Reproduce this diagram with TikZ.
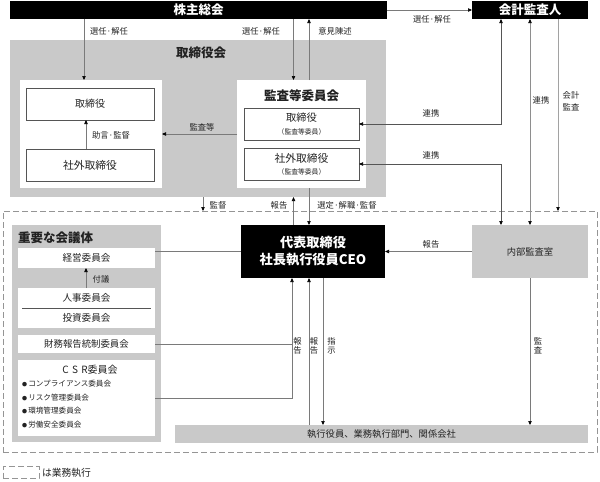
\documentclass[tikz,border=0pt]{standalone}
\usepackage{fontspec}
\setmainfont{Noto Sans CJK JP}
\usetikzlibrary{arrows.meta}
\definecolor{panel}{HTML}{C9C9C9}
\definecolor{ln}{HTML}{7A7A7A}
\definecolor{bd}{HTML}{555555}
\definecolor{txt}{HTML}{222222}
\newcommand{\smallbullet}{{\fontsize{5}{5}\selectfont ●}}
\begin{document}
\begin{tikzpicture}[x=1pt,y=-1pt,
  every node/.style={inner sep=0pt,outer sep=0pt,text=txt},
  blackbox/.style={fill=black,text=white,font=\bfseries\fontsize{12.5}{14}\selectfont},
  graypanel/.style={fill=panel},
  whitepanel/.style={fill=white},
  framed/.style={draw=bd,line width=0.6pt,fill=white,align=center},
  lab/.style={font=\fontsize{8.3}{10}\selectfont},
  vlab/.style={font=\fontsize{8.3}{9}\selectfont,align=center},
  ttl/.style={font=\bfseries\fontsize{12.5}{14}\selectfont},
  tip/.tip={Triangle[length=4pt,width=3.4pt,color=black]},
  conn/.style={draw=ln,line width=0.7pt},
  arr/.style={conn,-tip},
  darr/.style={conn,tip-tip},
  dashedbox/.style={draw=ln!80,line width=0.6pt,dash pattern=on 6pt off 3pt},
  bullet/.style={font=\fontsize{7.6}{9}\selectfont,anchor=west}
]
\useasboundingbox (0,0) rectangle (600,482);

% columns and rows
\coordinate (c84) at (84,0);
\coordinate (c86) at (86,0);
\coordinate (c203) at (203,0);
\coordinate (c292) at (292,0);
\coordinate (c293) at (293.5,0);
\coordinate (c309) at (309,0);
\coordinate (c323) at (323,0);
\coordinate (c501) at (501,0);
\coordinate (c530) at (530,0);
\coordinate (c558) at (558,0);

% top
\node[blackbox,minimum width=377pt,minimum height=18pt] (gms) at (198.5,10) {株主総会};
\node[blackbox,minimum width=116pt,minimum height=18pt] (aud) at (530,10) {会計監査人};

% board
\node[graypanel,minimum width=376pt,minimum height=157pt] (board) at (198,118.5) {};
\node[ttl] (boardt) at (201,53) {取締役会};
\node[whitepanel,minimum width=142pt,minimum height=108pt] (lp) at (91,134) {};
\node[framed,minimum width=128pt,minimum height=32pt,font=\fontsize{10}{12}\selectfont] (dir) at (90,104) {取締役};
\node[framed,minimum width=128pt,minimum height=32pt,font=\fontsize{10.8}{12}\selectfont] (odir) at (90,165) {社外取締役};
\node[whitepanel,minimum width=129pt,minimum height=108pt] (ap) at (301.5,134) {};
\node[ttl] (apt) at (301.5,96) {監査等委員会};
\node[framed,minimum width=115pt,minimum height=32pt] (adir) at (301.5,124) {};
\node[font=\fontsize{10.3}{12}\selectfont] (adirt) at (301.5,118) {取締役};
\node[font=\fontsize{6.8}{8}\selectfont] (adirs) at (301.5,131.5) {（監査等委員）};
\node[framed,minimum width=115pt,minimum height=32pt] (aodir) at (301.5,164) {};
\node[font=\fontsize{10.8}{12}\selectfont] (aodirt) at (301.5,158) {社外取締役};
\node[font=\fontsize{6.8}{8}\selectfont] (aodirs) at (301.5,171.5) {（監査等委員）};

% execution area
\node[dashedbox,minimum width=594pt,minimum height=241pt] (exec) at (300,331.5) {};
\node[blackbox,font=\bfseries\fontsize{13.2}{17}\selectfont,align=center,minimum width=144pt,minimum height=53pt] (ceo) at (313,251.5) {代表取締役\\社長執行役員CEO};
\node[graypanel,minimum width=116pt,minimum height=53pt,font=\fontsize{9.3}{11}\selectfont] (ia) at (530,251.5) {内部監査室};

\node[graypanel,minimum width=149pt,minimum height=217pt] (mtg) at (86.5,333.5) {};
\node[ttl,anchor=west] (mtgt) at (18,238) {重要な会議体};
\node[whitepanel,minimum width=137pt,minimum height=20pt,font=\fontsize{9.6}{11}\selectfont] (mgmt) at (86.5,258) {経営委員会};
\node[whitepanel,minimum width=137pt,minimum height=40pt] (hr) at (86.5,308) {};
\node[font=\fontsize{9.6}{11}\selectfont] (hrt) at (86.5,298) {人事委員会};
\node[font=\fontsize{9.6}{11}\selectfont] (invt) at (86.5,318) {投資委員会};
\draw[draw=bd,line width=0.6pt] (22,308) -- (151,308);
\node[whitepanel,minimum width=137pt,minimum height=18pt,font=\fontsize{9.4}{11}\selectfont] (fin) at (86.5,344) {財務報告統制委員会};
\node[whitepanel,minimum width=137pt,minimum height=76pt] (csr) at (86.5,398) {};
\node[font=\fontsize{10}{12}\selectfont] (csrt) at (90,370) {C\,\,S\,\,R委員会};
\node[bullet] (b1) at (22,384) {\smallbullet\,コンプライアンス委員会};
\node[bullet] (b2) at (22,397.5) {\smallbullet\,リスク管理委員会};
\node[bullet] (b3) at (22,411) {\smallbullet\,環境管理委員会};
\node[bullet] (b4) at (22,424.5) {\smallbullet\,労働安全委員会};

\node[graypanel,minimum width=413pt,minimum height=18pt,font=\fontsize{9.3}{11}\selectfont] (bar) at (381.5,434) {執行役員、業務執行部門、関係会社};

% legend
\node[dashedbox,minimum width=36pt,minimum height=12pt] (leg) at (21,472.5) {};
\node[font=\fontsize{9.8}{11}\selectfont,anchor=west] (legt) at (42,472.5) {は業務執行};

% connectors
\draw[arr] (c84 |- gms.south) -- (c84 |- lp.north);
\draw[arr] (c293 |- gms.south) -- (c293 |- ap.north);
\draw[arr] (c309 |- ap.north) -- (c309 |- gms.south);
\draw[arr] (gms.east) -- (aud.west);
\draw[arr] (c86 |- odir.north) -- (c86 |- dir.south);
\draw[arr] (ap.west) -- (lp.east);
\draw[darr,draw=bd] (c501 |- aud.south) -- (c501 |- adir.east) -- (adir.east);
\draw[darr,draw=bd] (aodir.east) -- (aodir.east -| c501) -- (c501 |- ia.north);
\draw[darr,draw=ln!85] (c530 |- aud.south) -- (c530 |- ia.north);
\draw[arr,draw=ln!70] (c558 |- aud.south) -- (c558 |- exec.north);
\draw[arr] (c203 |- board.south) -- (c203 |- exec.north);
\draw[arr] (c293 |- ceo.north) -- (c293 |- board.south);
\draw[arr] (c309 |- ap.south) -- (c309 |- ceo.north);
\draw[arr] (ia.west) -- (ceo.east);
\draw[conn] (ceo.west) -- (ceo.west -| mgmt.east);
\draw[arr] (c86 |- hr.north) -- (c86 |- mgmt.south);
\draw[arr] (fin.east) -- (fin.east -| c292) -- (c292 |- ceo.south);
\draw[conn] (csr.east) -- (csr.east -| c292) -- (c292 |- fin.east);
\draw[arr] (c309 |- bar.north) -- (c309 |- ceo.south);
\draw[arr] (c323 |- ceo.south) -- (c323 |- bar.north);
\draw[arr] (c530 |- ia.south) -- (c530 |- bar.north);

% labels
\node[lab] (l1) at (109,31) {選任·解任};
\node[lab] (l2) at (261,31) {選任·解任};
\node[lab] (l3) at (335,31) {意見陳述};
\node[lab] (l4) at (432,19) {選任·解任};
\node[lab] (l5) at (111,135) {助言·監督};
\node[lab] (l6) at (202,127) {監査等};
\node[lab] (l7) at (431,113) {連携};
\node[lab] (l8) at (431,155) {連携};
\node[lab] (l9) at (541,100) {連携};
\node[vlab,font=\fontsize{8.3}{12}\selectfont] (l10) at (571,101) {会計\\監査};
\node[lab] (l11) at (218,205.5) {監督};
\node[lab] (l12) at (279,205.5) {報告};
\node[lab] (l13) at (347,205.5) {選定·解職·監督};
\node[lab] (l14) at (431,244) {報告};
\node[lab] (l15) at (101,279) {付議};
\node[vlab] (l16) at (297.5,346) {報\\告};
\node[vlab] (l17) at (314,346) {報\\告};
\node[vlab] (l18) at (331.5,346) {指\\示};
\node[vlab] (l19) at (538,346) {監\\査};
\end{tikzpicture}
\end{document}
